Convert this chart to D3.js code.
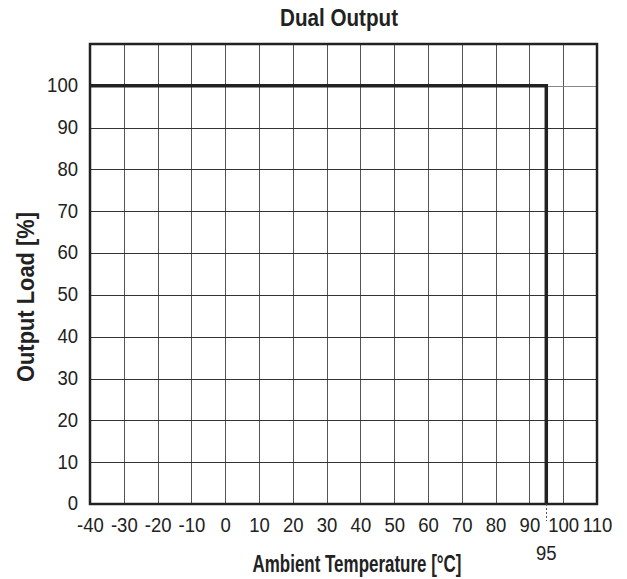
<!DOCTYPE html>
<html>
<head>
<meta charset="utf-8">
<script src="https://cdnjs.cloudflare.com/ajax/libs/d3/7.8.5/d3.min.js"></script>
<style>
  body { margin: 0; background: #fff; }
  .tick text, .num { font-family: "Liberation Sans", Arial, sans-serif; font-size: 19.5px; fill: #222; }
  .lbl { font-family: "Liberation Sans", Arial, sans-serif; font-weight: bold; font-size: 24px; fill: #222; }
</style>
</head>
<body>
<div id="chart"></div>
<script>
var xTicks = [-40, -30, -20, -10, 0, 10, 20, 30, 40, 50, 60, 70, 80, 90, 100, 110];
var yTicks = [0, 10, 20, 30, 40, 50, 60, 70, 80, 90, 100];
var curveTemp = [-40, 95, 95];
var curveLoad = [100, 100, 0];
var markTemp = 95;

var width = 627, height = 579;
var mLeft = 90, mRight = 597, mTop = 44, mBottom = 504;
var squeeze = "scale(0.95,1)";

var svg = d3.select("#chart").append("svg")
  .attr("width", width)
  .attr("height", height);

var x = d3.scaleLinear().domain([-40, 110]).range([mLeft, mRight]);
var y = d3.scaleLinear().domain([0, 110]).range([mBottom, mTop]);

// grid
svg.append("g").selectAll("line")
  .data(xTicks.slice(1, -1))
  .enter().append("line")
  .attr("x1", function(d) { return Math.round(x(d)) + 0.5; })
  .attr("x2", function(d) { return Math.round(x(d)) + 0.5; })
  .attr("y1", mTop).attr("y2", mBottom)
  .attr("stroke", "#555").attr("stroke-width", 1);

svg.append("g").selectAll("line")
  .data(yTicks.slice(1))
  .enter().append("line")
  .attr("y1", function(d) { return Math.round(y(d)) + 0.5; })
  .attr("y2", function(d) { return Math.round(y(d)) + 0.5; })
  .attr("x1", mLeft).attr("x2", mRight)
  .attr("stroke", function(d) { return d == 100 ? "#888" : "#333"; })
  .attr("stroke-width", 1);

// frame
svg.append("rect")
  .attr("x", mLeft).attr("y", mTop)
  .attr("width", mRight - mLeft).attr("height", mBottom - mTop)
  .attr("fill", "none").attr("stroke", "#222").attr("stroke-width", 2.5);

// axes (labels only)
var fmt = function(d) { return String(d); };

var xAxis = svg.append("g")
  .attr("transform", "translate(0," + (mBottom + 14) + ")")
  .call(d3.axisBottom(x).tickValues(xTicks).tickFormat(fmt).tickSize(0).tickPadding(0));
xAxis.select(".domain").remove();
xAxis.selectAll("text").attr("transform", squeeze);

var yAxis = svg.append("g")
  .attr("transform", "translate(" + (mLeft - 12) + ",0)")
  .call(d3.axisLeft(y).tickValues(yTicks).tickFormat(fmt).tickSize(0).tickPadding(0));
yAxis.select(".domain").remove();
yAxis.selectAll("text").attr("dy", "0.3em").attr("transform", squeeze);

// derating curve
var line = d3.line()
  .x(function(d) { return x(curveTemp[d]); })
  .y(function(d) { return y(curveLoad[d]); });

svg.append("path")
  .datum(d3.range(curveTemp.length))
  .attr("d", line)
  .attr("fill", "none")
  .attr("stroke", "#222")
  .attr("stroke-width", 3.5);

// 95 marker
svg.append("line")
  .attr("x1", Math.round(x(markTemp)) + 0.5).attr("x2", Math.round(x(markTemp)) + 0.5)
  .attr("y1", mBottom).attr("y2", mBottom + 17)
  .attr("stroke", "#555").attr("stroke-width", 1)
  .attr("stroke-dasharray", "2,2");

svg.append("g")
  .attr("transform", "translate(" + x(markTemp) + "," + (mBottom + 56) + ")")
  .append("text").attr("class", "num")
  .attr("text-anchor", "middle")
  .attr("transform", squeeze)
  .text(markTemp);

// titles
svg.append("text").attr("class", "lbl")
  .attr("x", 339).attr("y", 26)
  .attr("text-anchor", "middle")
  .attr("textLength", 118).attr("lengthAdjust", "spacingAndGlyphs")
  .text("Dual Output");

svg.append("text").attr("class", "lbl")
  .attr("x", 357).attr("y", 572)
  .attr("text-anchor", "middle")
  .attr("textLength", 209).attr("lengthAdjust", "spacingAndGlyphs")
  .text("Ambient Temperature [°C]");

svg.append("text").attr("class", "lbl")
  .attr("transform", "translate(34,297) rotate(-90)")
  .attr("text-anchor", "middle")
  .attr("textLength", 170).attr("lengthAdjust", "spacingAndGlyphs")
  .text("Output Load [%]");
</script>
</body>
</html>
